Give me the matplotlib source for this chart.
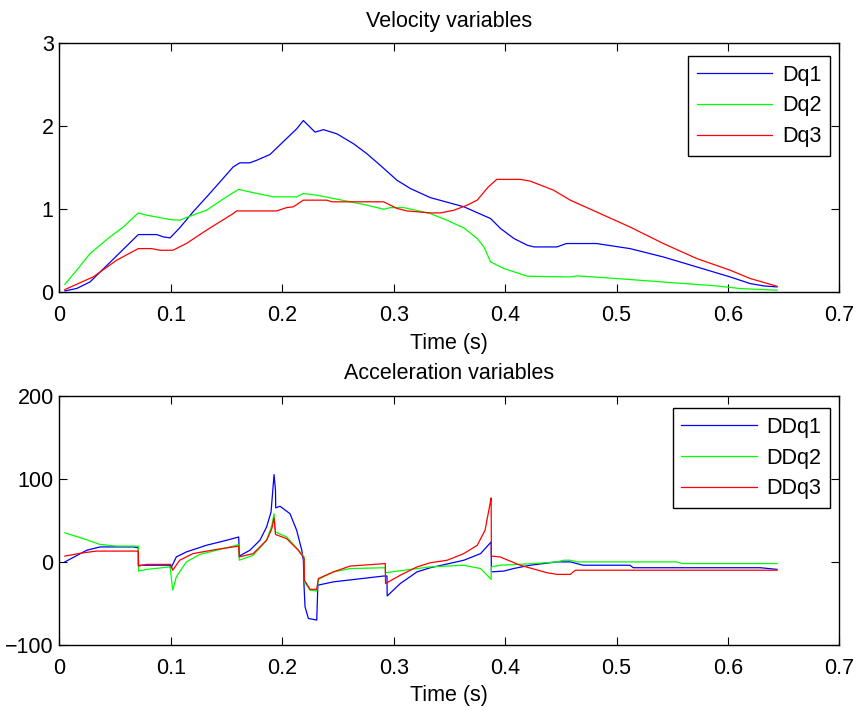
import matplotlib
matplotlib.use("Agg")
import matplotlib.pyplot as plt
from matplotlib.ticker import FormatStrFormatter

plt.rcParams["font.family"] = ["Liberation Sans", "DejaVu Sans"]

# velocity samples
t_dq1 = [0.005, 0.0156, 0.0276, 0.0709, 0.0874, 0.0934, 0.0994, 0.108, 0.120, 0.135, 0.156,
         0.162, 0.171, 0.177, 0.189, 0.213, 0.219, 0.2295, 0.237, 0.249, 0.264, 0.276, 0.288,
         0.303, 0.315, 0.333, 0.363, 0.387, 0.396, 0.408, 0.420, 0.426, 0.4465, 0.455, 0.482,
         0.512, 0.542, 0.572, 0.602, 0.620, 0.632, 0.644]
dq1 = [0.016, 0.045, 0.124, 0.695, 0.695, 0.667, 0.655, 0.775, 0.968, 1.19, 1.51,
       1.56, 1.56, 1.59, 1.66, 1.97, 2.07, 1.93, 1.96, 1.91, 1.79, 1.67, 1.53,
       1.35, 1.25, 1.14, 1.03, 0.888, 0.767, 0.647, 0.566, 0.546, 0.546, 0.587, 0.587,
       0.526, 0.425, 0.305, 0.184, 0.104, 0.076, 0.064]

t_dq2 = [0.005, 0.0156, 0.0276, 0.0455, 0.0575, 0.0709, 0.0784, 0.0874, 0.0994, 0.108, 0.117,
         0.132, 0.150, 0.161, 0.174, 0.192, 0.213, 0.219, 0.231, 0.246, 0.261, 0.276, 0.291,
         0.297, 0.309, 0.324, 0.333, 0.348, 0.363, 0.375, 0.381, 0.387, 0.399, 0.420, 0.458,
         0.465, 0.500, 0.548, 0.590, 0.611, 0.644]
dq2 = [0.096, 0.265, 0.466, 0.667, 0.787, 0.956, 0.928, 0.907, 0.876, 0.868, 0.916,
       0.988, 1.15, 1.24, 1.20, 1.15, 1.15, 1.19, 1.17, 1.13, 1.09, 1.05, 1.00,
       1.02, 1.02, 0.976, 0.948, 0.867, 0.775, 0.647, 0.546, 0.365, 0.285, 0.193, 0.184,
       0.197, 0.165, 0.117, 0.076, 0.044, 0.024]

t_dq3 = [0.005, 0.0305, 0.0515, 0.0709, 0.0829, 0.0904, 0.102, 0.114, 0.132, 0.156, 0.159,
         0.195, 0.204, 0.210, 0.219, 0.240, 0.2445, 0.291, 0.303, 0.312, 0.333, 0.342, 0.354,
         0.366, 0.375, 0.385, 0.3925, 0.4135, 0.4225, 0.4435, 0.4585, 0.482, 0.512, 0.542,
         0.572, 0.602, 0.620, 0.644]
dq3 = [0.032, 0.185, 0.386, 0.526, 0.526, 0.506, 0.506, 0.587, 0.747, 0.948, 0.980,
       0.980, 1.02, 1.03, 1.11, 1.11, 1.09, 1.09, 1.01, 0.98, 0.956, 0.956, 0.988,
       1.05, 1.11, 1.27, 1.36, 1.36, 1.34, 1.23, 1.11, 0.968, 0.787, 0.587,
       0.406, 0.265, 0.165, 0.072]

# acceleration samples
t_ddq1 = [0.005, 0.0246, 0.0365, 0.0665, 0.0709, 0.0709, 0.0994, 0.100, 0.105, 0.114, 0.132,
          0.150, 0.161, 0.1615, 0.171, 0.180, 0.186, 0.190, 0.1927, 0.194, 0.1942, 0.198,
          0.207, 0.213, 0.2176, 0.219, 0.2195, 0.2205, 0.2235, 0.231, 0.232, 0.246, 0.291,
          0.294, 0.2942, 0.306, 0.321, 0.333, 0.363, 0.378, 0.3875, 0.3877, 0.399, 0.4075,
          0.4225, 0.4465, 0.4585, 0.470, 0.512, 0.515, 0.629, 0.644]
ddq1 = [0, 14, 18, 18, 17, -4, -4, -8, 6, 12, 20,
        26, 30, 7, 14, 26, 42, 60, 105, 86, 65, 67,
        58, 38, 14, 2, -26, -54, -68, -70, -28, -24, -17,
        -17, -41, -26, -12, -7, 2, 10, 24, -12, -11, -8,
        -4, 0, 0, -4, -4, -7, -7, -9]

t_ddq2 = [0.005, 0.0215, 0.0365, 0.0515, 0.0709, 0.0711, 0.0784, 0.0994, 0.1018, 0.105, 0.114,
          0.126, 0.156, 0.161, 0.1615, 0.174, 0.186, 0.1907, 0.1927, 0.194, 0.204, 0.216,
          0.2197, 0.2199, 0.225, 0.231, 0.2325, 0.246, 0.261, 0.2925, 0.2927, 0.321, 0.333,
          0.363, 0.378, 0.3875, 0.3877, 0.3955, 0.4255, 0.4465, 0.4525, 0.4585, 0.4645,
          0.554, 0.559, 0.644]
ddq2 = [35, 28, 21, 19, 19, -11, -9, -6, -34, -18, 0,
        9, 19, 21, 2, 8, 26, 44, 58, 36, 30, 12,
        6, -24, -34, -35, -21, -12, -8, -7, -13, -8, -6,
        -4, -8, -21, -6, -4, -2, 0, 2, 2, 0,
        0, -2, -2]

t_ddq3 = [0.005, 0.0215, 0.0335, 0.0709, 0.0711, 0.0784, 0.100, 0.1018, 0.108, 0.120, 0.141,
          0.161, 0.1615, 0.174, 0.186, 0.1907, 0.1927, 0.194, 0.204, 0.2145, 0.2197, 0.2199,
          0.225, 0.231, 0.2325, 0.246, 0.261, 0.2925, 0.2927, 0.306, 0.321, 0.333, 0.348,
          0.363, 0.375, 0.382, 0.3865, 0.3875, 0.3877, 0.3955, 0.4135, 0.4375, 0.4465,
          0.4585, 0.463, 0.644]
ddq3 = [7, 11, 13, 13, -5, -3, -3, -10, 2, 10, 15,
        19, 6, 10, 26, 40, 53, 33, 28, 14, 4, -22,
        -33, -33, -20, -12, -5, -2, -26, -16, -6, -1, 2,
        10, 20, 38, 70, 77, 7, 6, -4, -13, -15,
        -15, -10, -10]

FS = 15.5

fig = plt.figure(figsize=(8.63, 7.11), dpi=100)
fig.patch.set_facecolor("white")

ax1 = fig.add_axes([0.0687, 0.589, 0.904, 0.350])
ax2 = fig.add_axes([0.0687, 0.0928, 0.904, 0.3507])

lw = 0.9
ax1.plot(t_dq1, dq1, color="#0000ff", lw=lw, label="Dq1")
ax1.plot(t_dq2, dq2, color="#00ff00", lw=lw, label="Dq2")
ax1.plot(t_dq3, dq3, color="#ff0000", lw=lw, label="Dq3")
ax1.set_ylim(0, 3)
ax1.set_yticks([0, 1, 2, 3])
ax1.set_title("Velocity variables", fontsize=FS, pad=12)

ax2.plot(t_ddq1, ddq1, color="#0000ff", lw=lw, label="DDq1")
ax2.plot(t_ddq2, ddq2, color="#00ff00", lw=lw, label="DDq2")
ax2.plot(t_ddq3, ddq3, color="#ff0000", lw=lw, label="DDq3")
ax2.set_ylim(-100, 200)
ax2.set_yticks([-100, 0, 100, 200])
ax2.set_title("Acceleration variables", fontsize=FS, pad=12)

for ax in (ax1, ax2):
    ax.set_xlim(0, 0.7)
    ax.set_xticks([0, 0.1, 0.2, 0.3, 0.4, 0.5, 0.6, 0.7])
    ax.xaxis.set_major_formatter(FormatStrFormatter("%g"))
    ax.set_xlabel("Time (s)", fontsize=FS, labelpad=5)
    ax.tick_params(direction="in", length=6, width=0.8, labelsize=FS,
                   top=True, right=True)
    ax.tick_params(axis="x", pad=9)
    ax.tick_params(axis="y", pad=4)
    for s in ax.spines.values():
        s.set_linewidth(1.0)
    leg = ax.legend(loc="upper right", bbox_to_anchor=(0.988, 0.949),
                    borderaxespad=0, fontsize=FS, handlelength=3.5,
                    handletextpad=0.45, labelspacing=0.45, fancybox=False,
                    framealpha=1, edgecolor="black", borderpad=0.4)
    leg.get_frame().set_linewidth(1.0)

fig.savefig("out.png", dpi=100, facecolor="white")
